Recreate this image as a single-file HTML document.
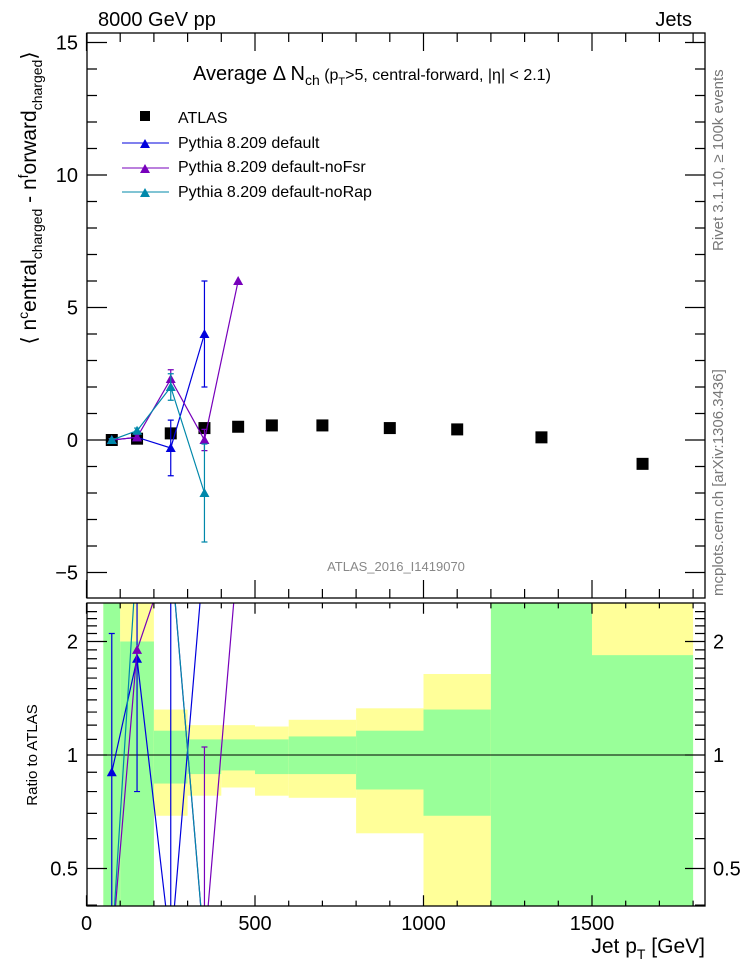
<!DOCTYPE html>
<html><head><meta charset="utf-8"><style>
html,body{margin:0;padding:0;background:#fff;width:746px;height:972px;overflow:hidden;}
svg{display:block;font-family:"Liberation Sans",sans-serif;}
</style></head><body>
<svg id="c" width="746" height="972" viewBox="0 0 746 972" xmlns="http://www.w3.org/2000/svg">
<defs>
<clipPath id="mclip"><rect x="87" y="33" width="618" height="565"/></clipPath>
<clipPath id="rclip"><rect x="87" y="603" width="618" height="303"/></clipPath>
</defs>
<g id="bands" clip-path="url(#rclip)"></g>
<g id="main" clip-path="url(#mclip)"></g>
<g id="ratio" clip-path="url(#rclip)"></g>
<g id="axes"></g>
<text x="98" y="26" font-size="20">8000 GeV pp</text>
<text x="692" y="26" font-size="20" text-anchor="end">Jets</text>
<text x="193" y="80" font-size="20">Average Δ N<tspan font-size="14" dy="5">ch</tspan><tspan dy="-5" font-size="16"> (p</tspan><tspan font-size="11" dy="5">T</tspan><tspan dy="-5" font-size="16">&gt;5, central-forward, |η| &lt; 2.1)</tspan></text>
<g font-size="16">
<rect x="140" y="111" width="10" height="10" fill="#000"/>
<text x="178" y="123">ATLAS</text>
<line x1="122" y1="143" x2="169" y2="143" stroke="#0000dd"/><path d="M140,148 L145,139 L150,148Z" fill="#0000dd"/>
<text x="178" y="148">Pythia 8.209 default</text>
<line x1="122" y1="168" x2="169" y2="168" stroke="#7700bb"/><path d="M140,173 L145,164 L150,173Z" fill="#7700bb"/>
<text x="178" y="172">Pythia 8.209 default-noFsr</text>
<line x1="122" y1="192" x2="169" y2="192" stroke="#0088aa"/><path d="M140,197 L145,188 L150,197Z" fill="#0088aa"/>
<text x="178" y="197">Pythia 8.209 default-noRap</text>
</g>
<text x="396" y="571" font-size="13" fill="#888" text-anchor="middle">ATLAS_2016_I1419070</text>
<text transform="translate(36,198) rotate(-90)" font-size="21" text-anchor="middle">⟨ n<tspan font-size="14" dy="-8">c</tspan><tspan dy="8">entral</tspan><tspan font-size="14" dy="6">charged</tspan><tspan dy="-6"> - n</tspan><tspan font-size="14" dy="-8">f</tspan><tspan dy="8">orward</tspan><tspan font-size="14" dy="6">charged</tspan><tspan dy="-6">⟩</tspan></text>
<text transform="translate(37,755) rotate(-90)" font-size="15" text-anchor="middle">Ratio to ATLAS</text>
<text x="705" y="953" font-size="21" text-anchor="end">Jet p<tspan font-size="14" dy="6">T</tspan><tspan dy="-6"> [GeV]</tspan></text>
<text transform="translate(723,251) rotate(-90)" font-size="15" fill="#777">Rivet 3.1.10, ≥ 100k events</text>
<text transform="translate(723,596) rotate(-90)" font-size="15" fill="#777">mcplots.cern.ch [arXiv:1306.3436]</text>
</svg>
<script>
const xCenters=[75,150,250,350,450,550,700,900,1100,1350,1650];
const atlasVals=[0.0,0.05,0.25,0.45,0.5,0.55,0.55,0.45,0.4,0.1,-0.9];
const defX=[75,150,250,350];
const defVals=[0.0,0.1,-0.3,4.0];
const defErr=[0.05,0.1,1.05,2.0];
const noFsrX=[75,150,250,350,450];
const noFsrVals=[0.0,0.1,2.3,0.0,6.0];
const noFsrErr=[0.05,0.1,0.35,0.4,0];
const noRapX=[75,150,250,350];
const noRapVals=[0.0,0.35,2.0,-2.0];
const noRapErr=[0.05,0.1,0.5,1.85];
const defRatio=[0.9,1.8,-1.2,8.9];
const defRatioErr=[1.2,1.0,4.2,4.4];
const noFsrRatio=[-2.0,1.9,9.2,0.0,12.0];
const noFsrRatioErr=[0,0,1.4,1.05,0];
const noRapRatio=[-3.0,7.0,8.0,-4.4];
const binEdges=[50,100,200,300,400,500,600,800,1000,1200,1500,1800];
const greenHi=[3,2.0,1.16,1.1,1.1,1.1,1.12,1.16,1.32,3,1.84];
const greenLo=[0.3,0.3,0.84,0.89,0.91,0.89,0.89,0.81,0.69,0.3,0.3];
const yellowHi=[3,3,1.32,1.2,1.2,1.19,1.24,1.33,1.64,3,3];
const yellowLo=[0.3,0.3,0.69,0.78,0.82,0.78,0.77,0.62,0.1,0.3,0.3];
const xTicks=[0,500,1000,1500];
const yTicks=[-5,0,5,10,15];
const rTicks=[0.5,1,2];

const NS="http://www.w3.org/2000/svg";
const X=v=>86.5+v*0.337;
const Y=v=>440-v*26.5;
const R=v=>v>0?Math.max(550,Math.min(950,755-Math.log2(v)*113.5)):950;
function el(tag,attrs,parent){const e=document.createElementNS(NS,tag);for(const k in attrs)e.setAttribute(k,attrs[k]);document.getElementById(parent).appendChild(e);return e;}

for(let i=0;i<binEdges.length-1;i++){
 const x1=X(binEdges[i]),x2=X(binEdges[i+1]);
 let e=el('rect',{x:x1,y:R(yellowHi[i]),width:x2-x1,height:R(yellowLo[i])-R(yellowHi[i]),fill:'#ffff99'},'bands');
 
 
 e=el('rect',{x:x1,y:R(greenHi[i]),width:x2-x1,height:R(greenLo[i])-R(greenHi[i]),fill:'#99ff99'},'bands');
 
 
}
let ln=el('line',{x1:87,x2:705,y1:R(1),y2:R(1),stroke:'#000','stroke-width':1},'bands');



function series(xs,vs,es,col,yf,g,name){
 const pts=xs.map((x,i)=>X(x)+','+yf(vs[i])).join(' ');
 let p=el('polyline',{points:pts,fill:'none',stroke:col,'stroke-width':1.2},g);
 
 
 xs.forEach((x,i)=>{
  const cx=X(x),cy=yf(vs[i]);
  if(es&&es[i]>0){
   const a=yf(vs[i]+es[i]),b=yf(vs[i]-es[i]);
   let e=el('path',{d:`M${cx},${a}V${b}M${cx-3},${a}H${cx+3}M${cx-3},${b}H${cx+3}`,stroke:col,'stroke-width':1.2,fill:'none'},g);
   
   
  }
  let t=el('path',{d:`M${cx-5},${cy+4}L${cx},${cy-5}L${cx+5},${cy+4}Z`,fill:col},g);
  
  
 });
}
series(defX,defRatio,defRatioErr,'#0000dd',R,'ratio','default-ratio');
series(noFsrX,noFsrRatio,noFsrRatioErr,'#7700bb',R,'ratio','nofsr-ratio');
series(noRapX,noRapRatio,null,'#0088aa',R,'ratio','norap-ratio');

xCenters.forEach((x,i)=>{
 const r=el('rect',{x:X(x)-6,y:Y(atlasVals[i])-6,width:12,height:12,fill:'#000'},'main');
 
 
});
series(defX,defVals,defErr,'#0000dd',Y,'main','default');
series(noFsrX,noFsrVals,noFsrErr,'#7700bb',Y,'main','nofsr');
series(noRapX,noRapVals,noRapErr,'#0088aa',Y,'main','norap');

let f=el('rect',{x:87,y:33,width:618,height:565,fill:'none',stroke:'#000','stroke-width':1.3},'axes');


f=el('rect',{x:87,y:603,width:618,height:303,fill:'none',stroke:'#000','stroke-width':1.3},'axes');


let d='';
for(let v=0;v<=1800;v+=100){const x=X(v),L=v%500===0?18:9;
 d+=`M${x},33v${L}M${x},598v${-L}M${x},603v${L*0.6}M${x},906v${-L*0.6}`;}
for(let v=-5;v<=15;v++){const y=Y(v),L=v%5===0?20:10;
 d+=`M87,${y}h${L}M705,${y}h${-L}`;}
for(let k=0.4;k<=2.5;k+=0.1){const v=Math.round(k*10)/10,y=R(v),L=(v===0.5||v===1||v===2)?20:10;
 d+=`M87,${y}h${L}M705,${y}h${-L}`;}
let tk=el('path',{d:d,stroke:'#000','stroke-width':1.2,fill:'none'},'axes');


xTicks.forEach(v=>{const t=el('text',{x:X(v),y:930,'font-size':20,'text-anchor':'middle'},'axes');t.textContent=v;
 
 });
yTicks.forEach(v=>{const t=el('text',{x:78,y:Y(v)+7,'font-size':20,'text-anchor':'end'},'axes');t.textContent=v<0?'−'+(-v):v;
 
 });
rTicks.forEach(v=>{[[78,'end'],[713,'start']].forEach(([x,a])=>{const t=el('text',{x:x,y:R(v)+7,'font-size':20,'text-anchor':a},'axes');t.textContent=v;
 
 });});
</script>
</body></html>
